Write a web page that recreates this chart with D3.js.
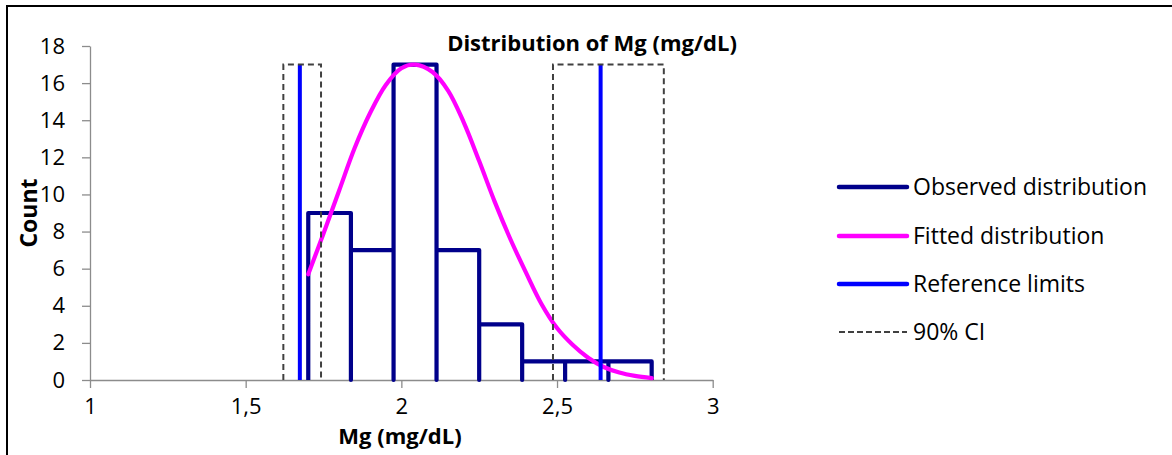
<!DOCTYPE html>
<html>
<head>
<meta charset="utf-8">
<script src="https://cdn.jsdelivr.net/npm/d3@7"></script>
<style>
  body { margin: 0; background: #fff; }
  svg text { font-family: "Open Sans", sans-serif; fill: #000; }
</style>
</head>
<body>
<div id="chart"></div>
<script>
// observed histogram (bin edges and counts)
var binEdges = [1.701, 1.838, 1.975, 2.113, 2.250, 2.388, 2.526, 2.665, 2.804];
var binCounts = [9, 7, 17, 7, 3, 1, 1, 1];

// fitted distribution
var fitX = [1.701, 1.75, 1.80, 1.85, 1.90, 1.95, 2.00, 2.045, 2.10, 2.15, 2.20, 2.25, 2.30, 2.35, 2.40, 2.45, 2.50, 2.55, 2.60, 2.65, 2.70, 2.75, 2.804];
var fitY = [5.7, 7.9, 10.2, 12.5, 14.4, 15.9, 16.8, 17.0, 16.6, 15.6, 13.9, 11.8, 9.6, 7.6, 5.8, 4.1, 2.8, 1.9, 1.2, 0.7, 0.4, 0.22, 0.1];

// reference limits and their 90% CI
var refLimits = [1.674, 2.640];
var ciLow = [1.621, 2.487];
var ciHigh = [1.742, 2.843];
var markTop = 17;

var xTicks = [1, 1.5, 2, 2.5, 3];
var yTicks = [0, 2, 4, 6, 8, 10, 12, 14, 16, 18];
var legendLabels = ["Observed distribution", "Fitted distribution", "Reference limits", "90% CI"];

var full_width = 1172, full_height = 455;
var margin = {top: 46, left: 90};
var plot_right = 712.7, plot_bottom = 380;

var svg = d3.select("#chart").append("svg")
    .attr("width", full_width)
    .attr("height", full_height);

// chart frame (only top and left edges are in view)
svg.append("rect")
    .attr("x", 7).attr("y", 6)
    .attr("width", 1300).attr("height", 600)
    .attr("fill", "none")
    .attr("stroke", "#000")
    .attr("stroke-width", 2);

var x = d3.scaleLinear().domain([1, 3]).range([margin.left, plot_right]);
var y = d3.scaleLinear().domain([0, 18]).range([plot_bottom, margin.top]);

var locale = d3.formatLocale({decimal: ",", thousands: ".", grouping: [3], currency: ["", ""]});
var fmt = locale.format("~g");

var axisColor = "#8c8c8c";

// Y axis
var gy = svg.append("g")
    .attr("transform", "translate(" + x(1) + ",0)")
    .call(d3.axisLeft(y).tickValues(yTicks).tickSize(8).tickSizeOuter(0).tickPadding(17));
gy.select(".domain").attr("stroke", axisColor).attr("stroke-width", 1.3);
gy.selectAll(".tick line").attr("stroke", axisColor).attr("stroke-width", 1.3);
gy.selectAll(".tick text").style("font-size", "22px").attr("fill", "#000");

// X axis
var gx = svg.append("g")
    .attr("transform", "translate(0," + y(0) + ")")
    .call(d3.axisBottom(x).tickValues(xTicks).tickFormat(fmt).tickSize(8).tickSizeOuter(0).tickPadding(10));
gx.select(".domain").attr("stroke", axisColor).attr("stroke-width", 1.3);
gx.selectAll(".tick line").attr("stroke", axisColor).attr("stroke-width", 1.3);
gx.selectAll(".tick text").style("font-size", "22px").attr("fill", "#000");

// observed distribution as a step outline
var histPts = [];
binCounts.forEach(function(c, i) {
    histPts.push([binEdges[i], 0]);
    histPts.push([binEdges[i], c]);
    histPts.push([binEdges[i + 1], c]);
    histPts.push([binEdges[i + 1], 0]);
});
var line = d3.line()
    .x(function(d) { return x(d[0]); })
    .y(function(d) { return y(d[1]); });

svg.append("path")
    .attr("d", line(histPts))
    .attr("fill", "none")
    .attr("stroke", "#00008b")
    .attr("stroke-width", 4.2)
    .attr("stroke-linejoin", "round");

// fitted distribution
var fitPts = fitX.map(function(v, i) { return [v, fitY[i]]; });
svg.append("path")
    .attr("d", line.curve(d3.curveCatmullRom)(fitPts))
    .attr("fill", "none")
    .attr("stroke", "#ff00ff")
    .attr("stroke-width", 4.2)
    .attr("stroke-linecap", "round");
line.curve(d3.curveLinear);

// reference limits
svg.selectAll(".ref")
    .data(refLimits)
    .enter().append("line")
    .attr("class", "ref")
    .attr("x1", function(d) { return x(d); })
    .attr("x2", function(d) { return x(d); })
    .attr("y1", y(0))
    .attr("y2", y(markTop))
    .attr("stroke", "#0000ff")
    .attr("stroke-width", 4);

// 90% CI boxes
svg.selectAll(".ci")
    .data(ciLow)
    .enter().append("path")
    .attr("class", "ci")
    .attr("d", function(d, i) {
        return line([[d, 0], [d, markTop], [ciHigh[i], markTop], [ciHigh[i], 0]]);
    })
    .attr("fill", "none")
    .attr("stroke", "#404040")
    .attr("stroke-width", 2)
    .attr("stroke-dasharray", "6,4");

// title
svg.append("text")
    .attr("x", 592)
    .attr("y", 51)
    .attr("text-anchor", "middle")
    .style("font-size", "22px")
    .style("font-weight", "bold")
    .text("Distribution of Mg (mg/dL)");

// axis titles
svg.append("text")
    .attr("x", 400)
    .attr("y", 444)
    .attr("text-anchor", "middle")
    .style("font-size", "22px")
    .style("font-weight", "bold")
    .text("Mg (mg/dL)");

svg.append("text")
    .attr("transform", "translate(37,213) rotate(-90)")
    .attr("text-anchor", "middle")
    .style("font-size", "23px")
    .style("font-weight", "bold")
    .text("Count");

// legend
var legendY = [187, 236, 284, 332];
var legendStyle = [
    {color: "#00008b", width: 4.5, dash: null, cap: "round"},
    {color: "#ff00ff", width: 4.5, dash: null, cap: "round"},
    {color: "#0000ff", width: 4.5, dash: null, cap: "round"},
    {color: "#404040", width: 2, dash: "6,3", cap: "butt"}
];
var legend = svg.selectAll(".legend")
    .data(legendLabels)
    .enter().append("g")
    .attr("class", "legend")
    .attr("transform", function(d, i) { return "translate(0," + legendY[i] + ")"; });

legend.append("line")
    .attr("x1", 839).attr("x2", 907)
    .attr("y1", 0).attr("y2", 0)
    .attr("stroke", function(d, i) { return legendStyle[i].color; })
    .attr("stroke-width", function(d, i) { return legendStyle[i].width; })
    .attr("stroke-dasharray", function(d, i) { return legendStyle[i].dash; })
    .attr("stroke-linecap", function(d, i) { return legendStyle[i].cap; });

legend.append("text")
    .attr("x", 913)
    .attr("y", 8)
    .style("font-size", "23px")
    .text(function(d) { return d; });
</script>
</body>
</html>
